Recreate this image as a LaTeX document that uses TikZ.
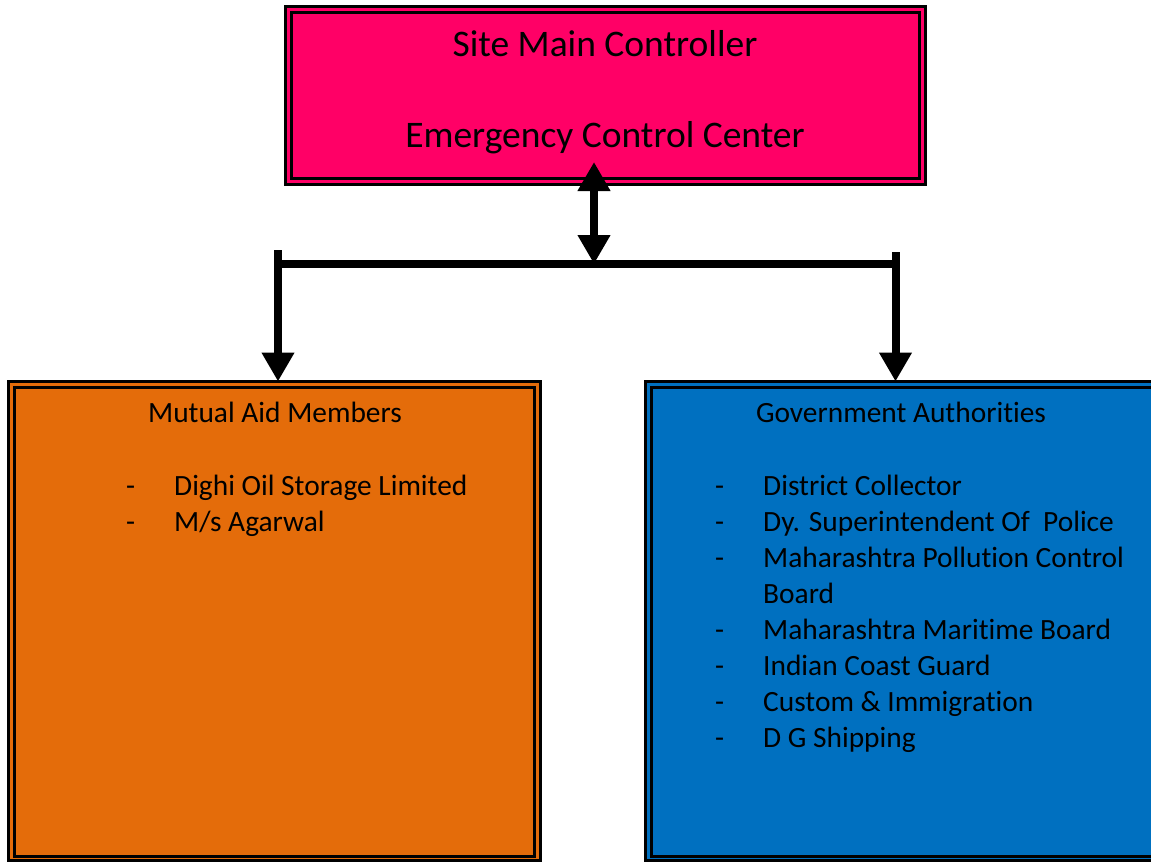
\documentclass[tikz,border=0pt]{standalone}
\usepackage{fontspec}
\setmainfont[Ligatures=NoCommon]{Carlito}
\usetikzlibrary{arrows.meta}
\definecolor{pinkc}{HTML}{FF0066}
\definecolor{orangec}{HTML}{E46C0A}
\definecolor{bluec}{HTML}{0070C0}
\tikzset{
  box/.style={draw=black, line width=3pt, inner sep=0pt, outer sep=0pt},
  inner/.style={draw=black, line width=2.5pt},
  conn/.style={line width=8pt},
  tip/.style={-{Triangle[length=29pt,width=31pt]}},
  bitip/.style={{Triangle[length=29pt,width=31pt]}-{Triangle[length=29pt,width=31pt]}},
  ttl/.style={font=\fontsize{37.5}{44}\selectfont, anchor=base, inner sep=0pt},
  hd/.style={font=\fontsize{29.4}{30}\selectfont, anchor=base, inner sep=0pt},
  lst/.style={font=\fontsize{29.4}{30}\selectfont, anchor=north west, inner sep=0pt}
}
\begin{document}
\begin{tikzpicture}[x=1pt,y=-1pt]
\useasboundingbox (0,0) rectangle (1151,863);
% boxes
\node[box, fill=pinkc, minimum width=640pt, minimum height=178pt] (top) at (605.5,95.5) {};
\draw[inner] ([shift={(6,6)}]top.north west) rectangle ([shift={(-6,-6)}]top.south east);
\node[box, fill=orangec, minimum width=532pt, minimum height=479pt] (mam) at (274.5,621) {};
\draw[inner] ([shift={(6,6)}]mam.north west) rectangle ([shift={(-6,-4)}]mam.south east);
\node[box, fill=bluec, minimum width=540pt, minimum height=479pt, anchor=north west] (gov) at (645.5,381.5) {};
\draw[inner] ([shift={(6,6)}]gov.north west) rectangle ([shift={(-6,-4)}]gov.south east);
% texts
\node[ttl] (t1) at (605,56) {Site Main Controller};
\node[ttl] (t2) at (605,147) {Emergency Control Center};
\node[hd] (h1) at (275,422) {Mutual Aid Members};
\node[hd] (h2) at (901,422) {Government Authorities};
\node[lst] (l1) at (126,470) {%
  \renewcommand{\arraystretch}{1.2}%
  \begin{tabular}{@{}p{48pt}@{}l@{}}
  -&Dighi Oil Storage Limited\\
  -&M/s Agarwal
  \end{tabular}};
\node[lst] (l2) at (715,470) {%
  \renewcommand{\arraystretch}{1.2}%
  \begin{tabular}{@{}p{48pt}@{}l@{}}
  -&District Collector\\
  -&Dy. Superintendent Of~ Police\\
  -&Maharashtra Pollution Control\\
   &Board\\
  -&Maharashtra Maritime Board\\
  -&Indian Coast Guard\\
  -&Custom \& Immigration\\
  -&D G Shipping
  \end{tabular}};
% connectors
\coordinate (j) at (594,264);
\coordinate (jl) at (274,264);
\coordinate (jr) at (899,264);
\coordinate (vl) at (278,250);
\coordinate (vr) at (895.5,252);
\draw[conn, bitip] (594,162) -- (j);
\draw[conn] (jl) -- (jr);
\draw[conn, tip] (vl) -- (vl |- mam.north);
\draw[conn, tip] (vr) -- (vr |- gov.north);
\end{tikzpicture}
\end{document}
